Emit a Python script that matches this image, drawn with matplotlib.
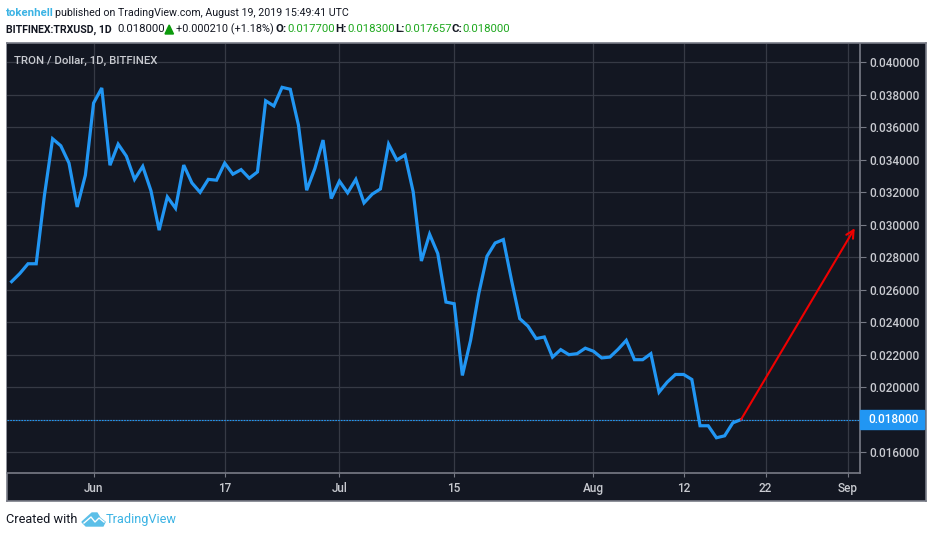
import matplotlib
matplotlib.use("Agg")
import matplotlib.pyplot as plt
import matplotlib.dates as mdates
from matplotlib.patches import Polygon, Rectangle
from matplotlib.transforms import blended_transform_factory
import pandas as pd

W, H = 932, 537

# daily closes, 22 May - 19 Aug 2019
dates = pd.date_range("2019-05-22", "2019-08-19", freq="D")
closes = [
    0.0265, 0.0270, 0.0276, 0.0276, 0.0318, 0.0353, 0.03487, 0.0338, 0.0311, 0.03306,
    0.0375, 0.03843, 0.03367, 0.03497, 0.03423, 0.0328, 0.0336, 0.0321, 0.02967, 0.03172,
    0.03102, 0.03368, 0.03258, 0.0320, 0.0328, 0.03275, 0.0338, 0.03312, 0.0334, 0.03287,
    0.03326, 0.03764, 0.03732, 0.03847, 0.03835, 0.03614, 0.03213, 0.03347, 0.03522, 0.03162,
    0.03269, 0.03197, 0.0328, 0.03135, 0.03189, 0.03221, 0.03497, 0.03399, 0.0343, 0.03203,
    0.02777, 0.02942, 0.02823, 0.02524, 0.02514, 0.02072, 0.02288, 0.02576, 0.02806, 0.02888,
    0.02909, 0.02658, 0.02422, 0.02376, 0.02299, 0.02309, 0.02185, 0.02231, 0.0220, 0.02206,
    0.0224, 0.02221, 0.0218, 0.02185, 0.02233, 0.02288, 0.02169, 0.02169, 0.02206, 0.01969,
    0.02031, 0.02078, 0.02078, 0.02047, 0.01762, 0.01762, 0.01688, 0.0170, 0.0178, 0.0180,
]

price_ticks = [0.016, 0.018, 0.020, 0.022, 0.024, 0.026, 0.028, 0.030,
               0.032, 0.034, 0.036, 0.038, 0.040]
date_ticks = ["2019-06-01", "2019-06-17", "2019-07-01", "2019-07-15",
              "2019-08-01", "2019-08-12", "2019-08-22", "2019-09-01"]
date_labels = ["Jun", "17", "Jul", "15", "Aug", "12", "22", "Sep"]
last_price = 0.018
arrow_from = ("2019-08-19", 0.018)
arrow_to = ("2019-09-01 21:00", 0.02979)

BG = "#131722"
GRID = "#363a45"
EDGE = "#787b86"
BLUE = "#2196f3"
LINK = "#3bb3e4"
GREEN = "#1fa81f"
plt.rcParams["font.family"] = ["Roboto", "DejaVu Sans"]

fig = plt.figure(figsize=(W / 100, H / 100), dpi=100, facecolor="white")


def box(l, t, r, b):
    return [l / W, 1 - b / H, (r - l) / W, (b - t) / H]


def put(x, y, s, color="#131722", size=8.2, weight="normal"):
    # header and footer text sits at pixel positions of the screenshot
    fig.text(x / W, 1 - y / H, s, color=color, fontsize=size, fontweight=weight,
             ha="left", va="center")


def pix(points):
    return [[x / W, 1 - y / H] for x, y in points]


# outer frame holding the price and time scales
outer = fig.add_axes(box(6.5, 43.5, 925.5, 500.5), facecolor=BG)
outer.set_xticks([])
outer.set_yticks([])
for s in outer.spines.values():
    s.set_color(EDGE)
    s.set_linewidth(1.2)

ax = fig.add_axes(box(6.5, 43.5, 859.5, 472.5), facecolor=BG)
ax.plot(dates, closes, color=BLUE, lw=2.3, solid_joinstyle="miter", zorder=4)
ax.axhline(last_price, color=BLUE, lw=0.8, ls=(0, (1.5, 1)), zorder=3)

ax.set_xlim(pd.Timestamp("2019-05-21 09:00"), pd.Timestamp("2019-09-02 11:00"))
ax.set_ylim(0.01474, 0.04117)
ax.set_xticks([mdates.date2num(pd.Timestamp(d)) for d in date_ticks])
ax.set_xticklabels(date_labels, fontweight="medium")
ax.yaxis.tick_right()
ax.set_yticks(price_ticks)
ax.set_yticklabels(["%.6f" % p for p in price_ticks], fontweight="medium")
ax.grid(True, color=GRID, lw=0.9, zorder=1)
ax.set_axisbelow(True)
ax.tick_params(axis="both", colors=EDGE, length=3, width=0.8, labelcolor="#c8cad0",
               labelsize=8.5)
ax.tick_params(axis="y", length=4, pad=3)
ax.tick_params(axis="x", pad=4)
for s in ["top", "left"]:
    ax.spines[s].set_visible(False)
for s in ["right", "bottom"]:
    ax.spines[s].set_color(EDGE)
    ax.spines[s].set_linewidth(1.2)

# red forecast arrow drawn by the author
ax.annotate("", xy=(pd.Timestamp(arrow_to[0]), arrow_to[1]),
            xytext=(pd.Timestamp(arrow_from[0]), arrow_from[1]),
            arrowprops=dict(arrowstyle="->,head_length=0.55,head_width=0.28", color="#f00000",
                            lw=1.5, shrinkA=0, shrinkB=0), zorder=5)

# last price tag on the scale
trans = blended_transform_factory(ax.transAxes, ax.transData)
tag = Rectangle((1, last_price - 0.00056), 65 / 853, 0.00112, transform=trans, color=BLUE,
                clip_on=False, zorder=6)
ax.add_patch(tag)
ax.text(1 + 8.5 / 853, last_price, "%.6f" % last_price, transform=trans, color="white",
        fontsize=8.5, fontweight="medium", va="center", ha="left", zorder=7)

ax.text(7.5 / 853, 1 - 17 / 429, "TRON / Dollar, 1D, BITFINEX", transform=ax.transAxes,
        color="#c8cad0", fontsize=8.2, fontweight="medium", va="center", ha="left", zorder=5)

# header lines
put(5.5, 12.5, "tokenhell", color=LINK, weight="bold")
put(55, 12.5, "published on TradingView.com, August 19, 2019 15:49:41 UTC", size=7.7)
put(5.5, 29.5, "BITFINEX:TRXUSD, 1D", size=7.6, weight="bold")
put(117, 29.5, "0.018000")
fig.add_artist(Polygon(pix([(165, 34), (173.5, 34), (169.2, 25)]), closed=True, color="#0c9a0c",
                       transform=fig.transFigure))
put(176, 29.5, "+0.000210 (+1.18%)", size=7.8)
for lx, vx, lab, val in [(275, 287, "O:", "0.017700"), (335, 347, "H:", "0.018300"),
                         (395, 404, "L:", "0.017657"), (452, 462, "C:", "0.018000")]:
    put(lx, 29.5, lab, weight="bold")
    put(vx, 29.5, val, color=GREEN)

# footer with the cloud logo
put(6, 519.5, "Created with", size=9.2)
fig.add_artist(Polygon(pix([(82, 522), (92, 513), (97, 513), (100, 518), (105, 522), (103, 526),
                            (86, 526)]), closed=True, color="#5bbfe8",
                       transform=fig.transFigure))
zigzag = pix([(84, 523), (91, 517), (95, 522), (99, 518), (104, 522)])
fig.add_artist(plt.Line2D([p[0] for p in zigzag], [p[1] for p in zigzag], color="white", lw=1,
                          transform=fig.transFigure))
put(106, 519.5, "TradingView", color=LINK, size=9.2)

fig.savefig("out.png", dpi=100, facecolor="white")
